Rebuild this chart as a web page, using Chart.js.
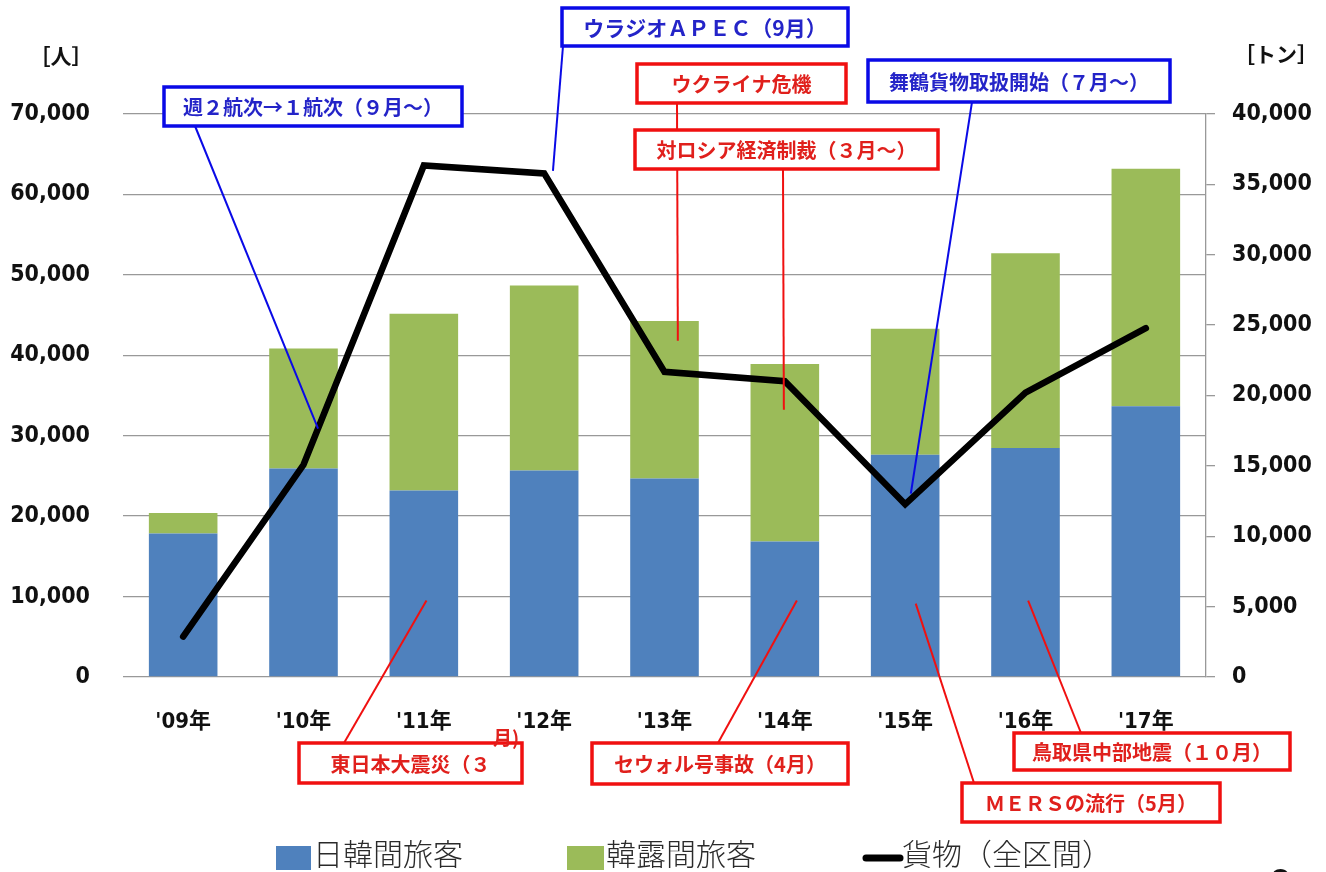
<!DOCTYPE html>
<html><head><meta charset="utf-8">
<script src="https://cdn.jsdelivr.net/npm/chart.js@4/dist/chart.umd.min.js"></script>
<style>html,body{margin:0;padding:0;background:#fff;overflow:hidden}canvas{display:block}</style>
</head><body>
<canvas id="c" width="1326" height="872"></canvas>
<script>
// ---- data ----
const categories = ["'09年", "'10年", "'11年", "'12年", "'13年", "'14年", "'15年", "'16年", "'17年"];
const japanKoreaPassengers = [17830, 25910, 23180, 25660, 24670, 16840, 27630, 28480, 33660];
const koreaRussiaPassengers = [2570, 14930, 21990, 23010, 19600, 22080, 15660, 24220, 29520];
const cargoTons = [2870, 15080, 36340, 35780, 21680, 21020, 12270, 20210, 24780];
const leftTickValues = [0, 10000, 20000, 30000, 40000, 50000, 60000, 70000];
const rightTickValues = [0, 5000, 10000, 15000, 20000, 25000, 30000, 35000, 40000];
const seriesNames = ["日韓間旅客", "韓露間旅客", "貨物（全区間）"];
const unitLeft = "［人］";
const unitRight = "［トン］";
// event callouts: text, colour, where the leader points (category index, left-axis value)
const events = [
  {text: "週２航次→１航次（９月～）", kind: "blue", at: [1.121, 30870]},
  {text: "ウラジオＡＰＥＣ（9月）", kind: "blue", at: [3.073, 62920]},
  {text: "ウクライナ危機", kind: "red", at: [4.111, 41800]},
  {text: "対ロシア経済制裁（３月～）", kind: "red", at: [4.992, 33230]},
  {text: "舞鶴貨物取扱開始（７月～）", kind: "blue", at: [6.047, 22800]},
  {text: "東日本大震災（３", kind: "red", at: [2.022, 9500], overflow: "月)"},
  {text: "セウォル号事故（4月）", kind: "red", at: [5.100, 9500]},
  {text: "鳥取県中部地震（１０月）", kind: "red", at: [7.022, 9500]},
  {text: "ＭＥＲＳの流行（5月）", kind: "red", at: [6.088, 9130]}
];

// ---- layout of callout boxes (pixels) ----
const boxLayout = [
  {box: [164, 87, 462, 126], from: [195, 126]},
  {box: [562, 8, 848, 46], from: [563, 46], size: 21},
  {box: [637, 64, 846, 103], from: [677, 103]},
  {box: [635, 130, 938, 169], from: [783, 169]},
  {box: [868, 60, 1170, 102], from: [972, 102]},
  {box: [299, 743, 522, 783], from: [344, 743], overflowAt: [506, 738]},
  {box: [592, 743, 848, 784], from: [718, 743]},
  {box: [1014, 733, 1290, 770], from: [1081, 733]},
  {box: [962, 783, 1220, 822], from: [974, 783]}
];
const COLORS = {
  blue: {stroke: "#0a0ae6", text: "#2424c8"},
  red: {stroke: "#f01010", text: "#e0201c"}
};
const CJK = "'Noto Sans CJK JP', 'Noto Sans', sans-serif";
const NUMFONT = "'DejaVu Sans Condensed', 'DejaVu Sans', 'Noto Sans CJK JP', sans-serif";

const overlayPlugin = {
  id: "overlay",
  afterDraw(chart) {
    const ctx = chart.ctx;
    const xs = chart.scales.x, ys = chart.scales.y;
    ctx.save();
    // leader lines
    events.forEach((ev, i) => {
      const L = boxLayout[i];
      const c = COLORS[ev.kind];
      ctx.strokeStyle = c.stroke;
      ctx.lineWidth = 2;
      ctx.beginPath();
      ctx.moveTo(L.from[0], L.from[1]);
      ctx.lineTo(xs.getPixelForValue(ev.at[0]), ys.getPixelForValue(ev.at[1]));
      ctx.stroke();
    });
    // boxes + text
    events.forEach((ev, i) => {
      const L = boxLayout[i];
      const c = COLORS[ev.kind];
      const [x1, y1, x2, y2] = L.box;
      ctx.fillStyle = "#fff";
      ctx.fillRect(x1, y1, x2 - x1, y2 - y1);
      ctx.strokeStyle = c.stroke;
      ctx.lineWidth = 3.5;
      ctx.strokeRect(x1, y1, x2 - x1, y2 - y1);
      ctx.fillStyle = c.text;
      ctx.font = "bold " + (L.size || 20) + "px " + CJK;
      ctx.textAlign = "center";
      ctx.textBaseline = "middle";
      ctx.fillText(ev.text, (x1 + x2) / 2, (y1 + y2) / 2 + 1);
      if (ev.overflow) {
        ctx.font = "bold 19px " + CJK;
        ctx.fillText(ev.overflow, L.overflowAt[0], L.overflowAt[1]);
      }
    });
    // unit labels
    ctx.fillStyle = "#111";
    ctx.font = "bold 21px " + CJK;
    ctx.textAlign = "center";
    ctx.textBaseline = "middle";
    ctx.fillText(unitLeft, 61, 56);
    ctx.fillText(unitRight, 1276, 54);
    // legend
    const ds = chart.data.datasets;
    ctx.font = "300 30px " + CJK;
    ctx.textAlign = "left";
    ctx.fillStyle = ds[1].backgroundColor;
    ctx.fillRect(276, 846, 35, 24);
    ctx.fillStyle = ds[2].backgroundColor;
    ctx.fillRect(567, 846, 37, 24);
    ctx.strokeStyle = ds[0].borderColor;
    ctx.lineWidth = 7;
    ctx.lineCap = "round";
    ctx.beginPath(); ctx.moveTo(866, 858); ctx.lineTo(900, 858); ctx.stroke();
    ctx.fillStyle = "#2a2a2a";
    ctx.fillText(seriesNames[0], 313, 854);
    ctx.fillText(seriesNames[1], 606, 854);
    ctx.fillText(seriesNames[2], 902, 854);
    // page number (cut off at the bottom)
    ctx.fillStyle = "#111";
    ctx.font = "bold 30px 'DejaVu Sans'";
    ctx.textAlign = "center";
    ctx.textBaseline = "alphabetic";
    ctx.fillText("9", 1281, 891);
    ctx.restore();
  }
};

const tickFont = {family: NUMFONT, size: 23, weight: "bold"};
const fmt = v => Number(v).toLocaleString("en-US");

new Chart(document.getElementById("c"), {
  data: {
    labels: categories,
    datasets: [
      {type: "line", label: seriesNames[2], data: cargoTons, yAxisID: "y2", borderColor: "#000",
       backgroundColor: "#000", borderWidth: 6.5, pointRadius: 0, tension: 0, order: 0,
       borderCapStyle: "round", borderJoinStyle: "miter"},
      {type: "bar", label: seriesNames[0], data: japanKoreaPassengers, yAxisID: "y", backgroundColor: "#4f81bd",
       order: 1, barPercentage: 0.57, categoryPercentage: 1},
      {type: "bar", label: seriesNames[1], data: koreaRussiaPassengers, yAxisID: "y", backgroundColor: "#9bbb59",
       order: 1, barPercentage: 0.57, categoryPercentage: 1}
    ]
  },
  options: {
    responsive: false, animation: false, devicePixelRatio: 1,
    layout: {padding: {top: 114, bottom: 135, left: 0, right: 0}},
    plugins: {legend: {display: false}, tooltip: {enabled: false}},
    scales: {
      x: {stacked: true, grid: {display: false}, border: {display: false},
          ticks: {font: {family: NUMFONT, size: 22, weight: "bold"}, color: "#111", padding: 24, maxRotation: 0, autoSkip: false},
          afterFit(s) { s.height = 60; }},
      y: {position: "left", stacked: true, min: leftTickValues[0], max: leftTickValues[leftTickValues.length - 1],
          afterBuildTicks(s) { s.ticks = leftTickValues.map(v => ({value: v})); },
          ticks: {font: tickFont, color: "#111", padding: 33, callback: fmt},
          grid: {color: "#999", lineWidth: 1.3, drawTicks: false}, border: {display: false},
          afterFit(s) { s.width = 123; }},
      y2: {position: "right", min: rightTickValues[0], max: rightTickValues[rightTickValues.length - 1],
          afterBuildTicks(s) { s.ticks = rightTickValues.map(v => ({value: v})); },
          ticks: {font: tickFont, color: "#111", padding: 17, callback: fmt},
          grid: {drawOnChartArea: false, color: "#999", lineWidth: 1.3, tickLength: 9},
          border: {display: true, color: "#999", width: 1.3},
          afterFit(s) { s.width = 120; }}
    }
  },
  plugins: [overlayPlugin]
});
</script>
</body></html>
